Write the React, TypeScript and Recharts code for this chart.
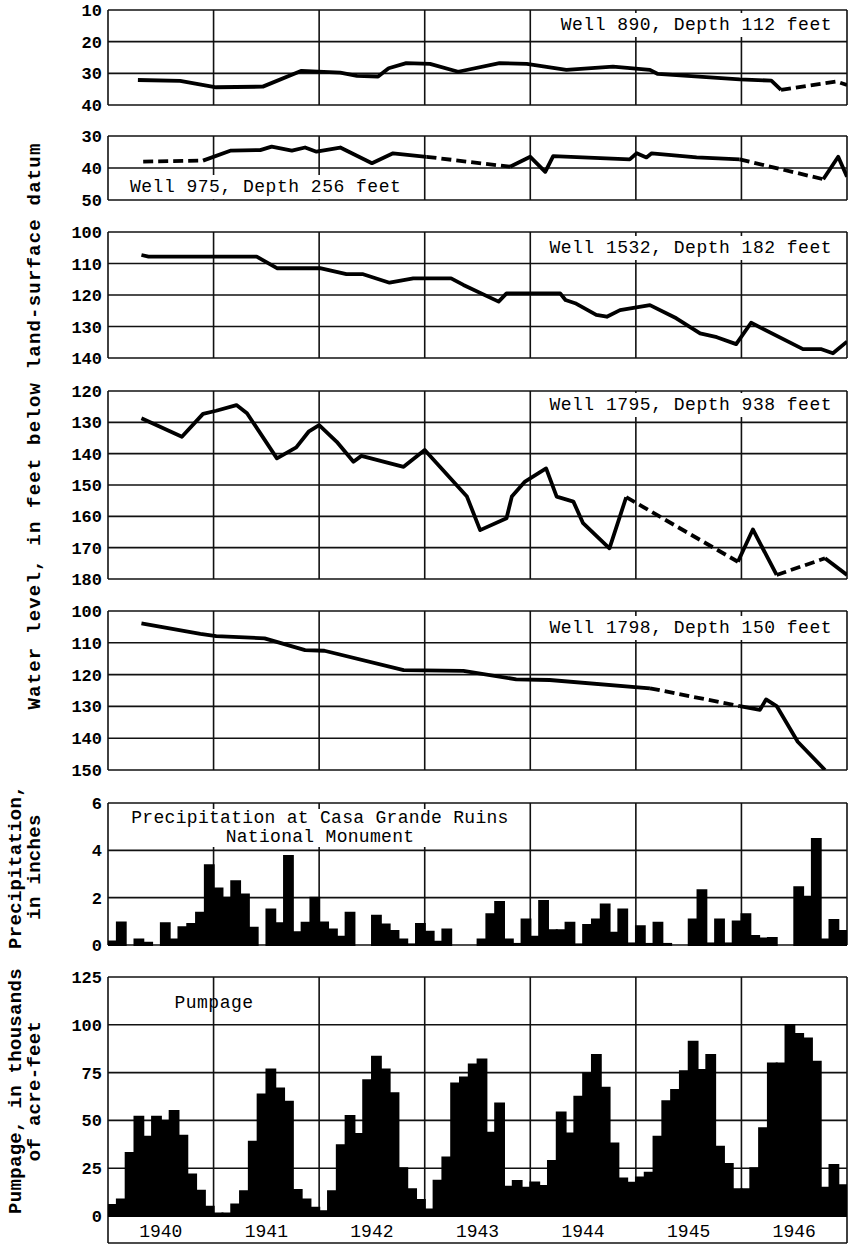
import React from "react";
import { LineChart, Line, BarChart, Bar, XAxis, YAxis, CartesianGrid } from "recharts";

const FONT = '"Liberation Mono", "Courier New", monospace';
const W = 853;
const LEFT = 108;
const RIGHT = 6;
const PAD = 12;

// x axis is months since Jan 1940, 0..84
const yearTicks = [0, 12, 24, 36, 48, 60, 72, 84];
const yearMidTicks = [6, 18, 30, 42, 54, 66, 78];
const yearLabels = ["1940", "1941", "1942", "1943", "1944", "1945", "1946"];

// Well 890
const well890Months = [3.4, 8.2, 12.3, 17.6, 22.0, 26.4, 28.3, 30.7, 31.9, 33.9, 36.6, 39.8, 44.5, 47.6, 52.1, 57.4, 61.6, 62.5, 71.8, 75.4, 76.5, 82.8, 84];
const well890Levels = [32.1, 32.4, 34.4, 34.2, 29.2, 29.8, 30.8, 31.0, 28.4, 26.8, 27.0, 29.5, 26.8, 27.0, 28.9, 27.9, 28.9, 30.2, 31.9, 32.3, 35.2, 32.6, 33.7];
const well890Dashed = [[76.5, 84]];

// Well 975
const well975Months = [4.0, 10.8, 13.9, 17.3, 18.6, 20.9, 22.4, 23.7, 26.4, 30.0, 32.4, 36.2, 45.7, 48.0, 49.7, 50.6, 59.3, 60.1, 61.2, 61.8, 66.9, 71.8, 81.3, 83.0, 84];
const well975Levels = [38.0, 37.7, 34.6, 34.4, 33.3, 34.6, 33.6, 34.9, 33.6, 38.5, 35.4, 36.5, 39.6, 36.5, 41.2, 36.3, 37.3, 35.4, 36.7, 35.4, 36.7, 37.3, 43.5, 36.5, 42.7];
const well975Dashed = [[0, 10.8], [36.2, 45.7], [71.8, 81.3]];

// Well 1532
const well1532Months = [3.8, 4.6, 16.9, 19.2, 24.1, 27.1, 29.0, 32.0, 34.7, 39.0, 40.4, 44.4, 45.3, 51.4, 52.0, 53.1, 55.5, 56.7, 58.2, 61.6, 64.6, 67.3, 69.2, 71.4, 73.1, 79.0, 81.1, 82.4, 84];
const well1532Levels = [107.3, 107.8, 107.8, 111.5, 111.5, 113.4, 113.4, 116.1, 114.7, 114.7, 116.8, 122.1, 119.5, 119.5, 121.6, 122.6, 126.3, 126.9, 124.8, 123.2, 127.4, 132.2, 133.4, 135.6, 128.8, 137.2, 137.2, 138.5, 134.8];
const well1532Dashed: number[][] = [];

// Well 1795
const well1795Months = [3.8, 8.4, 10.8, 12.3, 14.6, 15.8, 19.2, 21.4, 22.8, 24.0, 26.0, 27.9, 28.8, 33.6, 36.0, 40.8, 42.3, 45.3, 45.9, 47.4, 49.8, 51.0, 52.9, 54.0, 57.0, 58.9, 71.6, 73.3, 76.0, 81.5, 84];
const well1795Levels = [128.7, 134.6, 127.3, 126.3, 124.5, 127.1, 141.5, 138.0, 133.0, 130.9, 136.2, 142.6, 140.7, 144.2, 138.8, 153.7, 164.4, 160.6, 153.7, 148.9, 144.7, 153.7, 155.3, 162.2, 170.2, 153.9, 174.5, 164.2, 178.7, 173.4, 178.7];
const well1795Dashed = [[58.9, 71.6], [76.0, 81.5]];

// Well 1798
const well1798Months = [3.8, 10.5, 12.3, 17.8, 22.4, 24.6, 33.6, 40.4, 46.4, 50.2, 61.6, 71.8, 74.1, 74.8, 76.0, 78.4, 81.5];
const well1798Levels = [103.9, 107.2, 107.9, 108.6, 112.3, 112.5, 118.6, 118.8, 121.5, 121.7, 124.3, 129.9, 131.1, 127.8, 129.9, 141.1, 150];
const well1798Dashed = [[61.6, 71.8]];

// monthly precipitation, inches, Jan 1940 .. Dec 1946
const precip1940 = [0.15, 0.96, 0, 0.24, 0.1, 0, 0.92, 0.24, 0.75, 0.89, 1.37, 3.37];
const precip1941 = [2.39, 2.0, 2.7, 2.14, 0.73, 0, 1.5, 0.92, 3.76, 0.54, 0.94, 2.0];
const precip1942 = [0.96, 0.66, 0.35, 1.37, 0, 0, 1.24, 0.87, 0.6, 0.24, 0.03, 0.89];
const precip1943 = [0.56, 0.14, 0.66, 0, 0, 0, 0.24, 1.3, 1.82, 0.24, 0.05, 1.08];
const precip1944 = [0.35, 1.86, 0.63, 0.63, 0.94, 0.03, 0.85, 1.08, 1.72, 0.52, 1.5, 0.07];
const precip1945 = [0.8, 0.05, 0.94, 0.05, 0, 0, 1.08, 2.32, 0.07, 1.08, 0.07, 1.0];
const precip1946 = [1.3, 0.38, 0.28, 0.3, 0, 0, 2.44, 2.04, 4.48, 0.24, 1.06, 0.6];

// monthly pumpage, thousands of acre-feet
const pump1940 = [5.8, 8.7, 33, 52, 41.5, 52, 49.7, 55, 42, 21.8, 13.2, 4.9];
const pump1941 = [1.4, 1.4, 6.1, 13, 38.9, 63.6, 76.7, 66.8, 59.8, 13.6, 8.7, 4.4];
const pump1942 = [2.6, 13, 37, 52.3, 42.9, 71.1, 83.3, 76.7, 64.2, 25, 14, 8.4];
const pump1943 = [3.5, 18.5, 30.7, 69.4, 72.5, 79.3, 81.9, 43.6, 58.9, 15.3, 18.3, 14.8];
const pump1944 = [17.6, 15.7, 28.8, 54.2, 43.2, 62.4, 74.6, 84.2, 67.1, 38, 19.7, 17.4];
const pump1945 = [20.2, 22.7, 41.5, 60.1, 65.9, 75.8, 91.2, 76.4, 84.2, 36.3, 27.2, 14];
const pump1946 = [14, 25, 45.9, 79.8, 79.8, 99.9, 95.2, 92.9, 80.7, 14.8, 26.7, 16.2];

type Pt = { m: number; v: number };

// split a well record into solid / dashed runs
function toRuns(months: number[], levels: number[], dashed: number[][]) {
  const runs: { dashed: boolean; pts: Pt[] }[] = [];
  for (let i = 0; i < months.length - 1; i++) {
    const mid = (months[i] + months[i + 1]) / 2;
    const d = dashed.some(([a, b]) => mid > a && mid < b);
    const last = runs[runs.length - 1];
    const next = { m: months[i + 1], v: levels[i + 1] };
    if (last && last.dashed === d) last.pts.push(next);
    else runs.push({ dashed: d, pts: [{ m: months[i], v: levels[i] }, next] });
  }
  return runs;
}

const monthly = (vals: number[]) => vals.map((v, i) => ({ m: i + 0.5, v }));

const tickStyle = { fontFamily: FONT, fontSize: 17, fontWeight: 700, fill: "#000" };
const gridProps = { stroke: "#111", strokeWidth: 1.6 };

const WellPanel = ({ top, bottom, domain, ticks, months, levels, dashed }: any) => {
  const runs = toRuns(months, levels, dashed);
  return (
    <div style={{ position: "absolute", left: 0, top: top - PAD }}>
      <LineChart
        width={W}
        height={bottom - top + 2 * PAD}
        margin={{ top: PAD, right: RIGHT, bottom: PAD, left: 0 }}
      >
        <CartesianGrid {...gridProps} />
        <XAxis type="number" dataKey="m" domain={[0, 84]} ticks={yearTicks} hide height={0} allowDataOverflow />
        <YAxis
          type="number"
          domain={domain}
          ticks={ticks}
          reversed
          width={LEFT}
          interval={0}
          axisLine={false}
          tickLine={false}
          tickSize={0}
          tickMargin={6}
          tick={tickStyle}
          allowDataOverflow
        />
        {runs.map((r, i) => (
          <Line
            key={i}
            data={r.pts}
            dataKey="v"
            type="linear"
            stroke="#000"
            strokeWidth={3.8}
            strokeDasharray={r.dashed ? "10 5" : undefined}
            strokeLinejoin="round"
            dot={false}
            isAnimationActive={false}
          />
        ))}
      </LineChart>
    </div>
  );
};

const label = (text: string, style: React.CSSProperties, bg = true) => (
  <div
    style={{
      position: "absolute",
      fontFamily: FONT,
      fontSize: 18,
      letterSpacing: 0.5,
      lineHeight: "24px",
      whiteSpace: "nowrap",
      padding: "0 4px",
      background: bg ? "#fff" : "transparent",
      color: "#000",
      ...style,
    }}
  >
    {text}
  </div>
);

const vTitle = (lines: string[], cx: number, cy: number, spacing = 0.3) => (
  <div
    style={{
      position: "absolute",
      left: cx,
      top: cy,
      transform: "translate(-50%, -50%) rotate(-90deg)",
      fontFamily: FONT,
      fontSize: 19,
      fontWeight: 700,
      letterSpacing: spacing,
      lineHeight: "19px",
      textAlign: "center",
      whiteSpace: "nowrap",
      color: "#000",
    }}
  >
    {lines.map((l) => (
      <div key={l}>{l}</div>
    ))}
  </div>
);

export default function App() {
  const precip = [...precip1940, ...precip1941, ...precip1942, ...precip1943, ...precip1944, ...precip1945, ...precip1946];
  const pump = [...pump1940, ...pump1941, ...pump1942, ...pump1943, ...pump1944, ...pump1945, ...pump1946];

  return (
    <div style={{ position: "absolute", left: 0, top: 0, width: W, height: 1245, background: "#fff" }}>
      <WellPanel top={10} bottom={105} domain={[10, 40]} ticks={[10, 20, 30, 40]} months={well890Months} levels={well890Levels} dashed={well890Dashed} />
      <WellPanel top={136} bottom={200} domain={[30, 50]} ticks={[30, 40, 50]} months={well975Months} levels={well975Levels} dashed={well975Dashed} />
      <WellPanel top={232} bottom={358} domain={[100, 140]} ticks={[100, 110, 120, 130, 140]} months={well1532Months} levels={well1532Levels} dashed={well1532Dashed} />
      <WellPanel top={391} bottom={579} domain={[120, 180]} ticks={[120, 130, 140, 150, 160, 170, 180]} months={well1795Months} levels={well1795Levels} dashed={well1795Dashed} />
      <WellPanel top={611} bottom={770} domain={[100, 150]} ticks={[100, 110, 120, 130, 140, 150]} months={well1798Months} levels={well1798Levels} dashed={well1798Dashed} />

      <div style={{ position: "absolute", left: 0, top: 803 - PAD }}>
        <BarChart
          width={W}
          height={945 - 803 + 2 * PAD}
          data={monthly(precip)}
          margin={{ top: PAD, right: RIGHT, bottom: PAD, left: 0 }}
          barCategoryGap={0}
          barGap={0}
        >
          <CartesianGrid {...gridProps} />
          <XAxis type="number" dataKey="m" domain={[0, 84]} ticks={yearTicks} hide height={0} allowDataOverflow />
          <YAxis type="number" domain={[0, 6]} ticks={[0, 2, 4, 6]} width={LEFT} interval={0} axisLine={false} tickLine={false} tickSize={0} tickMargin={6} tick={tickStyle} />
          <Bar dataKey="v" fill="#000" stroke="#000" strokeWidth={1.8} isAnimationActive={false} />
        </BarChart>
      </div>

      {/* year label row frame, drawn under the pumpage chart's year axis */}
      <div style={{ position: "absolute", left: 0, top: 1216 - PAD }}>
        <LineChart width={W} height={27 + 2 * PAD} margin={{ top: PAD, right: RIGHT, bottom: PAD, left: LEFT }}>
          <CartesianGrid {...gridProps} />
          <XAxis type="number" dataKey="m" domain={[0, 84]} ticks={yearTicks} hide height={0} />
          <YAxis type="number" domain={[0, 1]} ticks={[0, 1]} hide width={0} />
        </LineChart>
      </div>

      <div style={{ position: "absolute", left: 0, top: 977 - PAD }}>
        <BarChart
          width={W}
          height={1216 - 977 + PAD + 27}
          data={monthly(pump)}
          margin={{ top: PAD, right: RIGHT, bottom: 0, left: 0 }}
          barCategoryGap={0}
          barGap={0}
        >
          <CartesianGrid {...gridProps} />
          <XAxis type="number" dataKey="m" domain={[0, 84]} ticks={yearTicks} hide height={0} allowDataOverflow />
          <XAxis
            xAxisId="yr"
            type="number"
            dataKey="m"
            domain={[0, 84]}
            ticks={yearMidTicks}
            interval={0}
            height={27}
            axisLine={false}
            tickLine={false}
            tickSize={0}
            tickMargin={8}
            tickFormatter={(t: number) => yearLabels[(t - 6) / 12]}
            tick={{ fontFamily: FONT, fontSize: 18, fill: "#000" }}
          />
          <YAxis type="number" domain={[0, 125]} ticks={[0, 25, 50, 75, 100, 125]} width={LEFT} interval={0} axisLine={false} tickLine={false} tickSize={0} tickMargin={6} tick={tickStyle} />
          <Bar dataKey="v" fill="#000" stroke="#000" strokeWidth={1.8} isAnimationActive={false} />
        </BarChart>
      </div>

      {label("Well 890, Depth 112 feet", { right: 17, top: 13 })}
      {label("Well 975, Depth 256 feet", { left: 126, top: 175 })}
      {label("Well 1532, Depth 182 feet", { right: 17, top: 236 })}
      {label("Well 1795, Depth 938 feet", { right: 17, top: 393 })}
      {label("Well 1798, Depth 150 feet", { right: 17, top: 616 })}
      <div
        style={{
          position: "absolute",
          left: 320,
          top: 809,
          transform: "translateX(-50%)",
          fontFamily: FONT,
          fontSize: 18,
          letterSpacing: 0.3,
          lineHeight: "19px",
          textAlign: "center",
          whiteSpace: "nowrap",
          background: "#fff",
          padding: "0 6px",
        }}
      >
        <div>Precipitation at Casa Grande Ruins</div>
        <div>National Monument</div>
      </div>
      {label("Pumpage", { left: 214, top: 991, transform: "translateX(-50%)" }, false)}

      {vTitle(["Water level, in feet below land-surface datum"], 35, 426, 1.2)}
      {vTitle(["Precipitation,", "in inches"], 26, 867)}
      {vTitle(["Pumpage, in thousands", "of acre-feet"], 26, 1091)}
    </div>
  );
}
